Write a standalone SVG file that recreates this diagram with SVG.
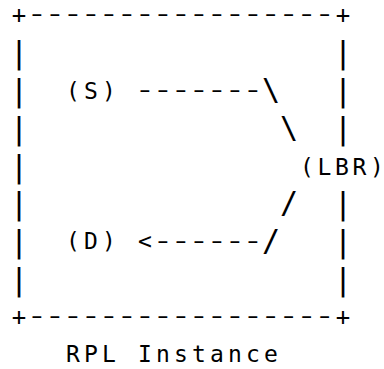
<svg xmlns="http://www.w3.org/2000/svg" width="384" height="369" viewBox="0 0 384 369">
<style>
text{font-family:"DejaVu Sans Mono",monospace;fill:#000;white-space:pre}
.t{font-size:23px;letter-spacing:4.15px}
.bar{font-size:30.8px}
.dash{font-size:23px;letter-spacing:-1.85px}
.plus{font-size:24px}
.sl{font-size:30px}
</style>
<rect width="384" height="369" fill="#fff"/>
<g id="instance-box">
<text class="plus" x="11.8" y="22.9">+</text>
<text class="dash" x="17.75" y="21.35" transform="scale(1.5,1)">-----------------</text>
<text class="plus" x="335.8" y="22.9">+</text>
<text class="bar" x="9.73" y="63.4">|</text><text class="bar" x="333.73" y="63.4">|</text>
<text class="bar" x="9.73" y="101.1">|</text><text class="bar" x="333.73" y="101.1">|</text>
<text class="bar" x="9.73" y="138.8">|</text><text class="bar" x="333.73" y="138.8">|</text>
<text class="bar" x="9.73" y="176.5">|</text>
<text class="bar" x="9.73" y="214.2">|</text><text class="bar" x="333.73" y="214.2">|</text>
<text class="bar" x="9.73" y="251.9">|</text><text class="bar" x="333.73" y="251.9">|</text>
<text class="bar" x="9.73" y="289.6">|</text><text class="bar" x="333.73" y="289.6">|</text>
<text class="plus" x="11.8" y="324.5">+</text>
<text class="dash" x="17.75" y="322.95" transform="scale(1.5,1)">-----------------</text>
<text class="plus" x="335.8" y="324.5">+</text>
<text class="t" x="66.1" y="362.1">RPL Instance</text>
</g>
<g id="node-S"><text class="t" x="66.1" y="98.9">(S)</text></g>
<g id="node-D"><text class="t" x="66.1" y="249.3">(D)</text></g>
<g id="node-LBR"><text class="t" x="300.1 317.55 335 352.45 369.9" y="175" style="letter-spacing:0">(LBR)</text></g>
<g id="connectors">
<text class="dash" x="89.75" y="96.75" transform="scale(1.5,1)">-------</text>
<text class="sl" x="261.97" y="100">\</text>
<text class="sl" x="279.97" y="137.7">\</text>
<text class="sl" x="279.97" y="213.1">/</text>
<text class="t" x="138.1" y="249.3" style="letter-spacing:0">&lt;</text>
<text class="dash" x="101.75" y="247.55" transform="scale(1.5,1)">------</text>
<text class="sl" x="261.97" y="250.8">/</text>
</g>
</svg>
